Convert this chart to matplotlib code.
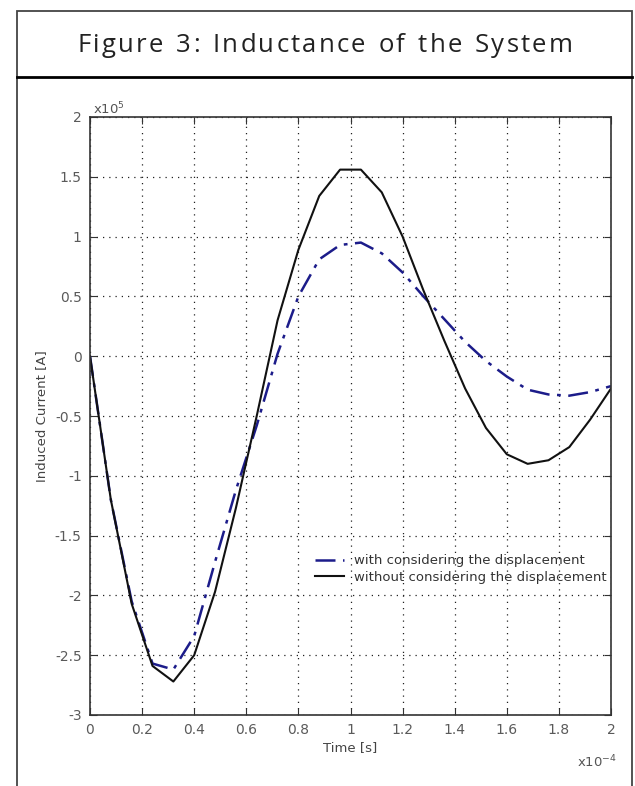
import numpy as np
import matplotlib
matplotlib.use('Agg')
import matplotlib.pyplot as plt
from matplotlib.patches import Rectangle
from matplotlib.lines import Line2D

# time in units of 1e-4 s, current in units of 1e5 A
t = [0, 0.08, 0.16, 0.24, 0.32, 0.40, 0.48, 0.56, 0.64, 0.72, 0.80, 0.88, 0.96,
     1.04, 1.12, 1.20, 1.28, 1.36, 1.44, 1.52, 1.60, 1.68, 1.76, 1.84, 1.92, 2.00]
with_disp = [0, -1.20, -2.05, -2.57, -2.62, -2.34, -1.72, -1.12, -0.58, 0.02, 0.50,
             0.81, 0.93, 0.95, 0.86, 0.70, 0.50, 0.31, 0.12, -0.04, -0.17, -0.28,
             -0.32, -0.33, -0.30, -0.25]
without_disp = [0, -1.20, -2.07, -2.59, -2.72, -2.50, -1.97, -1.27, -0.50, 0.30, 0.89,
                1.34, 1.56, 1.56, 1.37, 1.00, 0.55, 0.13, -0.27, -0.60, -0.82, -0.90,
                -0.87, -0.76, -0.53, -0.27]
xticks = [0, 0.2, 0.4, 0.6, 0.8, 1, 1.2, 1.4, 1.6, 1.8, 2]
yticks = [-3, -2.5, -2, -1.5, -1, -0.5, 0, 0.5, 1, 1.5, 2]
title = 'Figure 3: Inductance of the System'

W, H = 635, 786
fig = plt.figure(figsize=(W / 100, H / 100), dpi=100)

def fx(px):
    return px / W

def fy(py):
    return 1 - py / H

# outer frame and header
fig.patches.append(Rectangle((fx(17), fy(800)), fx(632) - fx(17), fy(11) - fy(800),
                             transform=fig.transFigure, fill=False, ec='#444444', lw=1.3))
fig.lines.append(Line2D([fx(17), fx(632)], [fy(77), fy(77)], transform=fig.transFigure,
                        color='black', lw=2))

# title drawn with extra letter spacing, like the original
renderer = fig.canvas.get_renderer()
pieces = []
total = 0
for ch in title:
    tt = fig.text(0, 0, ch if ch != ' ' else 'n', fontsize=18.5, family='Open Sans')
    w = tt.get_window_extent(renderer).width
    tt.remove()
    if ch == ' ':
        w *= 0.55
    pieces.append((ch, w))
    total += w
track = 2.2
total += track * (len(title) - 1)
x = 325 - total / 2
for ch, w in pieces:
    if ch != ' ':
        fig.text(fx(x), fy(45), ch, fontsize=18.5, family='Open Sans', color='#222222',
                 va='center', ha='left')
    x += w + track

ax = fig.add_axes([fx(90), fy(715), fx(611) - fx(90), fy(117) - fy(715)])
ax.plot(t, with_disp, color='#1c1c8a', ls=(0, (8, 3, 1.5, 3)), lw=1.8,
        label='with considering the displacement')
ax.plot(t, without_disp, color='#111111', ls='-', lw=1.5,
        label='without considering the displacement')

ax.set_xlim(0, 2)
ax.set_ylim(-3, 2)
ax.set_xticks(xticks)
ax.set_xticklabels(['%g' % v for v in xticks])
ax.set_yticks(yticks)
ax.set_yticklabels(['%g' % v for v in yticks])
ax.tick_params(direction='in', length=5, top=True, right=True, labelsize=10,
               labelcolor='#5a5a5a', color='#333333', pad=6)
ax.grid(True, ls=(0, (1, 4)), color='#222222', lw=0.9)
for s in ax.spines.values():
    s.set_color('#333333')
    s.set_linewidth(1.2)

ax.set_xlabel('Time [s]', fontsize=9.5, color='#444444', labelpad=3)
ax.set_ylabel('Induced Current [A]', fontsize=9.5, color='#444444', labelpad=5)

fig.text(fx(93), fy(109), r'x10$^5$', fontsize=9.5, color='#555555', va='center')
fig.text(fx(577), fy(762), r'x10$^{-4}$', fontsize=9.5, color='#555555', va='center')

leg = ax.legend(loc='upper left', bbox_to_anchor=((310 - 90) / 521, (715 - 549) / 598),
                frameon=False, fontsize=9.5, handlelength=2.2, handletextpad=0.7,
                labelspacing=0.25, borderaxespad=0)
for txt in leg.get_texts():
    txt.set_color('#333333')

fig.savefig('out.png', dpi=100)
